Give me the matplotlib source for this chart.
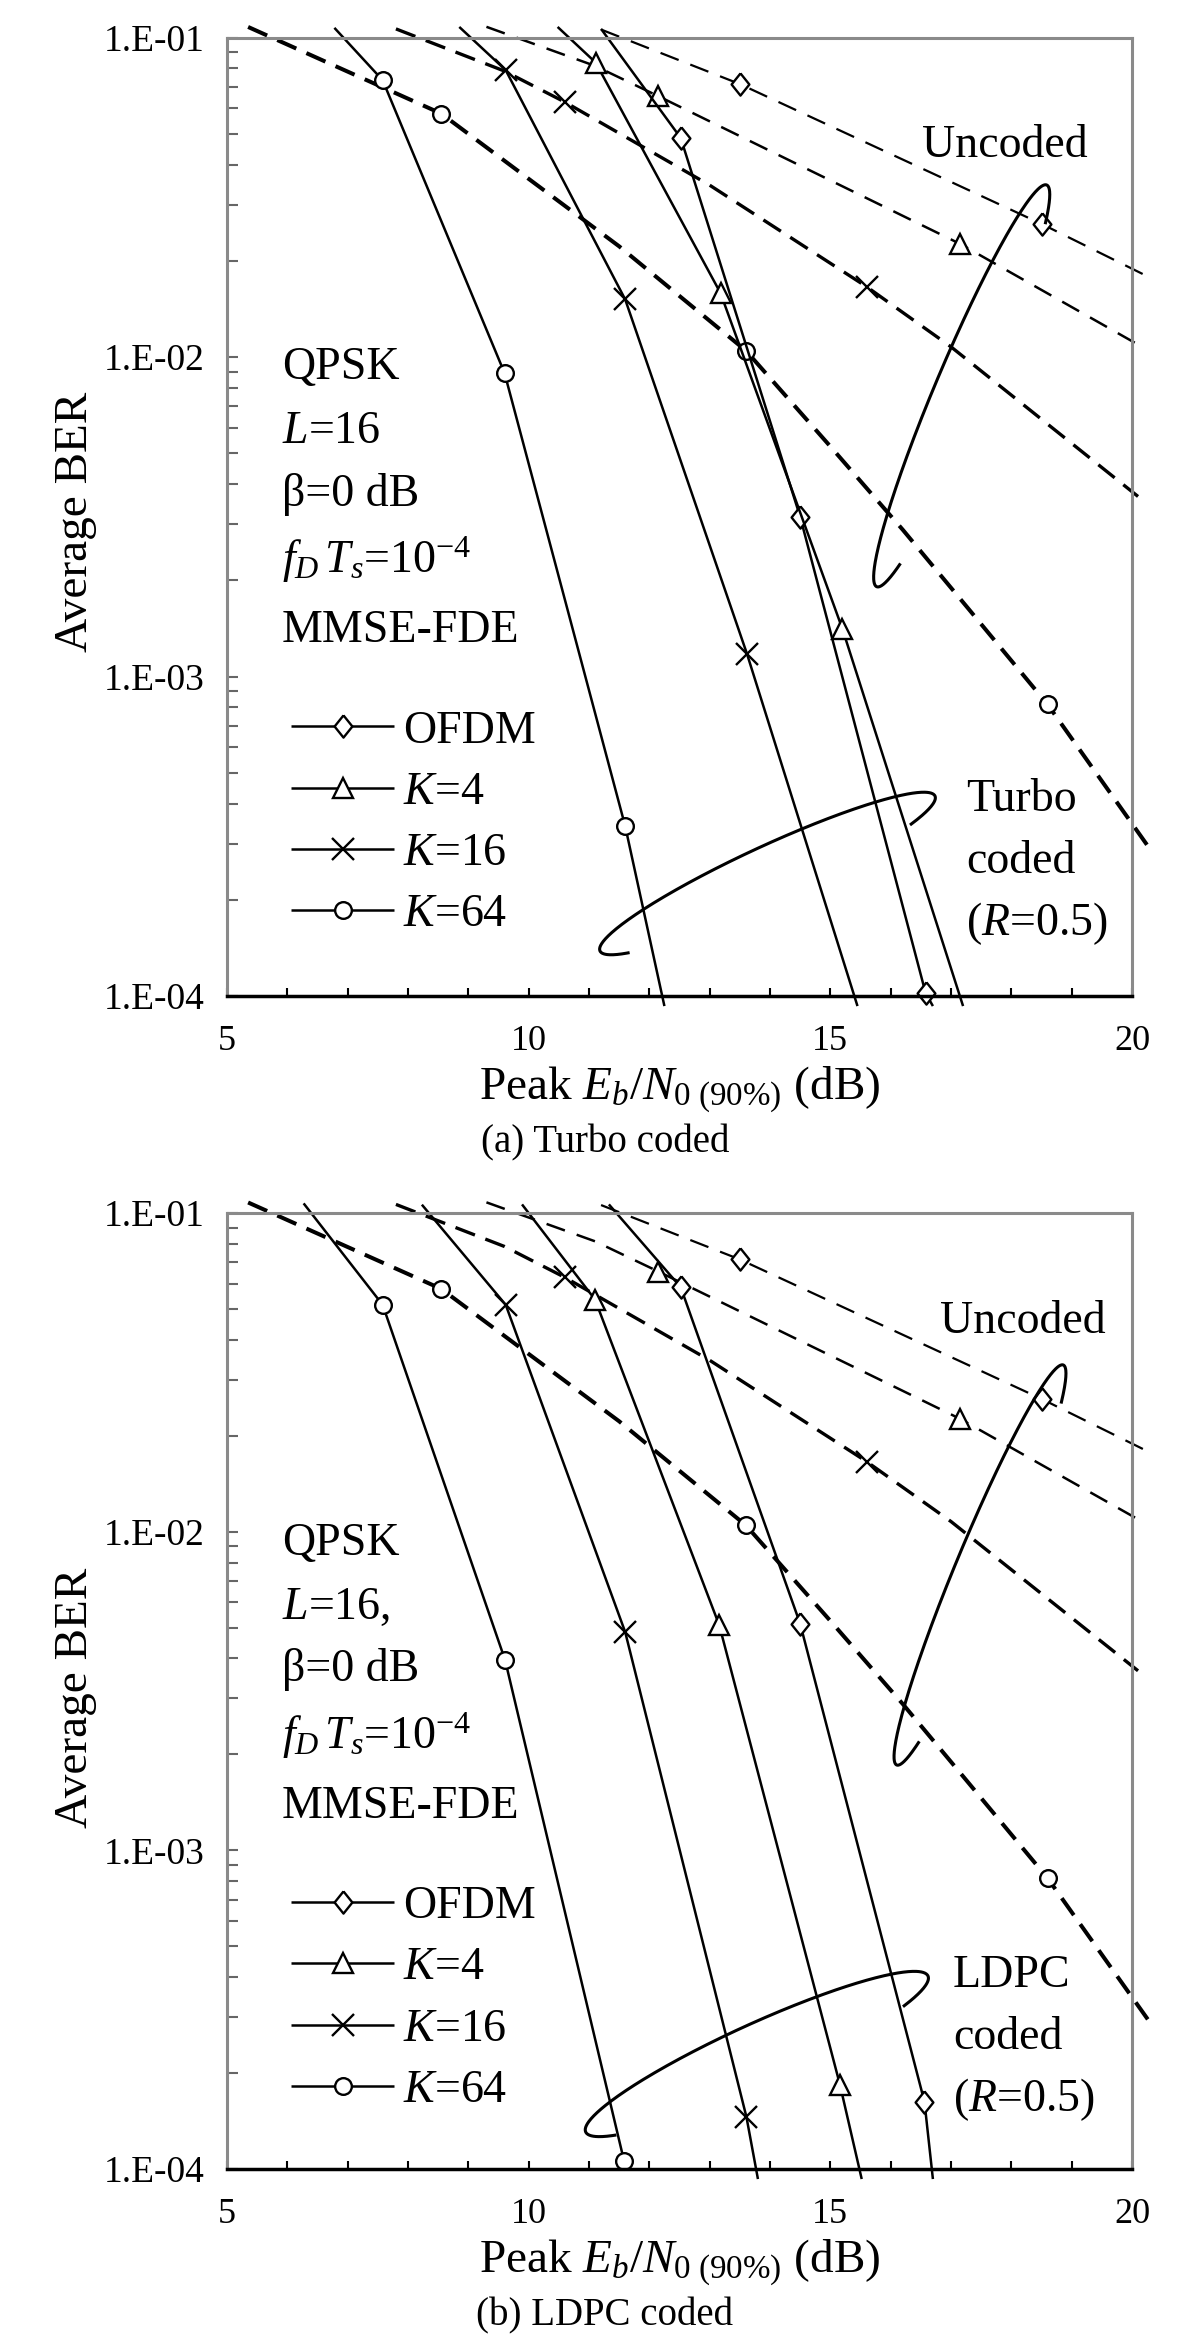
import numpy as np
import matplotlib
matplotlib.use("Agg")
import matplotlib.pyplot as plt
from matplotlib.ticker import MultipleLocator, FixedLocator, NullFormatter, LogLocator

plt.rcParams['font.family'] = ['Liberation Serif', 'DejaVu Serif']
plt.rcParams['mathtext.fontset'] = 'custom'
plt.rcParams['mathtext.rm'] = 'Liberation Serif'
plt.rcParams['mathtext.it'] = 'Liberation Serif:italic'
plt.rcParams['mathtext.bf'] = 'Liberation Serif:bold'
plt.rcParams['lines.scale_dashes'] = False

# ---------------- data (Peak Eb/N0 in dB, average BER) ----------------
# Uncoded (same in both panels)
unc_ofdm_x = [11.2, 13.5, 18.5, 20.2]
unc_ofdm_y = [0.1059, 0.0715, 0.0261, 0.0181]
unc_ofdm_mk = [1, 2]
unc_k4_x = [9.3, 11.1, 12.15, 17.15, 20.2]
unc_k4_y = [0.108, 0.0815, 0.0655, 0.0226, 0.01067]
unc_k4_mk = [2, 3]
unc_k16_x = [7.8, 9.6, 10.6, 13.0, 15.6, 17.0, 20.1]
unc_k16_y = [0.1064, 0.0785, 0.0628, 0.0345, 0.0166, 0.01076, 0.00366]
unc_k16_mk = [2, 4]
unc_k64_x = [5.35, 8.55, 11.5, 13.6, 15.0, 16.2, 17.3, 18.6, 20.3]
unc_k64_y = [0.1079, 0.0578, 0.0222, 0.01047, 0.00525, 0.00288, 0.00162, 0.000818, 0.000288]
unc_k64_mk = [1, 3, 7]

# Turbo coded (R=0.5)
tc_ofdm_x = [11.2, 12.52, 14.5, 16.58, 16.7]
tc_ofdm_y = [0.1064, 0.0485, 0.00316, 0.000102, 0.000093]
tc_k4_x = [10.48, 11.11, 13.18, 15.2, 17.2]
tc_k4_y = [0.1079, 0.0835, 0.01585, 0.00141, 0.000093]
tc_k16_x = [8.85, 9.62, 11.6, 13.62, 15.45]
tc_k16_y = [0.1079, 0.0790, 0.01514, 0.001175, 0.000093]
tc_k64_x = [6.78, 7.58, 9.6, 11.6, 12.25]
tc_k64_y = [0.1072, 0.0735, 0.00891, 0.00034, 0.000093]

# LDPC coded (R=0.5)
lc_ofdm_x = [11.33, 12.52, 14.5, 16.56, 16.7]
lc_ofdm_y = [0.1064, 0.0585, 0.00514, 0.0001626, 0.000093]
lc_k4_x = [9.89, 11.1, 13.16, 15.16, 15.52]
lc_k4_y = [0.1064, 0.0535, 0.00508, 0.0001837, 0.000093]
lc_k16_x = [8.23, 9.62, 11.6, 13.61, 13.8]
lc_k16_y = [0.1062, 0.0515, 0.00484, 0.0001455, 0.000093]
lc_k64_x = [6.27, 7.58, 9.61, 11.58]
lc_k64_y = [0.1072, 0.0515, 0.00395, 0.0001062]
coded_mk = [1, 2, 3]

legend_labels = ['OFDM', r'$K$=4', r'$K$=16', r'$K$=64']
ytick_vals = [1e-4, 1e-3, 1e-2, 1e-1]
ytick_labels = ['1.E-04', '1.E-03', '1.E-02', '1.E-01']
xtick_vals = [5, 10, 15, 20]

# ---------------- figure ----------------
W, H = 1200, 2352
fig = plt.figure(figsize=(W / 100, H / 100), dpi=100)

diamond = [(0, 1), (0.8, 0), (0, -1), (-0.8, 0), (0, 1)]
mk_style = dict(markerfacecolor='white', markeredgecolor='black', markeredgewidth=1.7)
FS = 33

def lasso(A, B, b, t0, t1):
    A = np.array(A, float); B = np.array(B, float)
    c = (A + B) / 2
    d = A - c
    a = np.hypot(*d)
    u = d / a
    n = np.array([u[1], -u[0]])
    t = np.linspace(-np.radians(t0), np.pi + np.radians(t1), 300)
    P = c[None, :] + np.cos(t)[:, None] * d[None, :] + (b * np.sin(t))[:, None] * n[None, :]
    fig.add_artist(plt.Line2D(P[:, 0] / W, 1 - P[:, 1] / H, transform=fig.transFigure,
                              color='black', lw=2.2))

panels = [
    dict(top=37.5, bottom=996,
         coded=[(tc_ofdm_x, tc_ofdm_y), (tc_k4_x, tc_k4_y), (tc_k16_x, tc_k16_y), (tc_k64_x, tc_k64_y)],
         lparam='$L$=16', code=['Turbo', 'coded', r'($R$=0.5)'], code_x=966, unc_x=922,
         caption='(a) Turbo coded',
         lasso_unc=((1046.7, 185), (876.7, 586.7), 25),
         lasso_cod=((935, 796), (600, 951), 27)),
    dict(top=1213, bottom=2169,
         coded=[(lc_ofdm_x, lc_ofdm_y), (lc_k4_x, lc_k4_y), (lc_k16_x, lc_k16_y), (lc_k64_x, lc_k64_y)],
         lparam='$L$=16,', code=['LDPC', 'coded', r'($R$=0.5)'], code_x=953, unc_x=940,
         caption='(b) LDPC coded',
         lasso_unc=((1063.3, 1365), (896.7, 1765), 23),
         lasso_cod=((928, 1976), (585.7, 2132), 30)),
]

markers = [diamond, '^', 'x', 'o']
msizes = [16, 15, 16, 12]

for p in panels:
    top, bot = p['top'], p['bottom']
    hgt = bot - top
    ax = fig.add_axes([227 / W, 1 - bot / H, 905 / W, hgt / H])
    ax.set_yscale('log')
    ax.set_xlim(5, 20)
    ax.set_ylim(1e-4, 1e-1)

    # uncoded dashed curves
    unc = [(unc_ofdm_x, unc_ofdm_y, unc_ofdm_mk, 1.6, (14, 9)),
           (unc_k4_x, unc_k4_y, unc_k4_mk, 1.8, (14, 9)),
           (unc_k16_x, unc_k16_y, unc_k16_mk, 2.4, (15, 8)),
           (unc_k64_x, unc_k64_y, unc_k64_mk, 2.9, (15, 8))]
    for (xs, ys, mk, lw, ds), m, ms in zip(unc, markers, msizes):
        ln, = ax.plot(xs, ys, color='black', lw=lw, linestyle='--', marker=m, markersize=ms,
                      markevery=mk, clip_on=False, dash_capstyle='butt', **mk_style)
        ln.set_dashes(ds)

    handles = []
    for (xs, ys), m, ms in zip(p['coded'], markers, msizes):
        ln, = ax.plot(xs, ys, color='black', lw=1.8, marker=m, markersize=ms,
                      markevery=coded_mk, clip_on=False, solid_capstyle='butt', **mk_style)
        handles.append(ln)

    # axes styling
    for s in ['top', 'right', 'left']:
        ax.spines[s].set_color('#8a8a8a')
        ax.spines[s].set_linewidth(2.2)
    ax.spines['bottom'].set_color('black')
    ax.spines['bottom'].set_linewidth(2.5)

    ax.yaxis.set_major_locator(FixedLocator(ytick_vals))
    ax.set_yticklabels(ytick_labels)
    ax.yaxis.set_minor_locator(LogLocator(base=10, subs=np.arange(2, 10)))
    ax.yaxis.set_minor_formatter(NullFormatter())
    ax.set_xticks(xtick_vals)
    ax.xaxis.set_minor_locator(MultipleLocator(1))
    ax.tick_params(axis='y', which='both', direction='in', length=8, width=1.5,
                   color='#666666', labelsize=27, pad=16)
    ax.tick_params(axis='x', which='both', direction='in', length=6, width=1.5,
                   color='black', labelsize=26, pad=21)

    # text block
    fx = lambda X: (X - 227) / 905
    fy = lambda Y: (bot - (Y + top - 37.5)) / hgt
    tx = fx(282)
    ax.text(tx, fy(368), 'QPSK', transform=ax.transAxes, fontsize=FS, va='center')
    ax.text(tx, fy(432), p['lparam'], transform=ax.transAxes, fontsize=FS, va='center')
    ax.text(tx, fy(494), 'β=0 dB', transform=ax.transAxes, fontsize=FS, va='center')
    ax.text(tx, fy(560), r'$f_{D}\,T_{s}$=10$^{-4}$', transform=ax.transAxes, fontsize=FS, va='center')
    ax.text(tx, fy(631), 'MMSE-FDE', transform=ax.transAxes, fontsize=FS, va='center')
    ax.text(fx(p['unc_x']), fy(146), 'Uncoded', transform=ax.transAxes, fontsize=FS, va='center')
    for txt, yy in zip(p['code'], [800, 862, 924]):
        ax.text(fx(p['code_x']), fy(yy), txt, transform=ax.transAxes, fontsize=FS, va='center')

    ax.legend(handles, legend_labels, loc='upper left', bbox_to_anchor=(fx(291), fy(710)),
              frameon=False, fontsize=FS, handlelength=2.25, handletextpad=0.2,
              labelspacing=0.41, borderaxespad=0, borderpad=0)

    # labels
    fig.text(76 / W, 1 - (top + 484.5) / H, 'Average BER', rotation=90, fontsize=34,
             ha='center', va='center')
    fig.text(680 / W, 1 - (bot + 94) / H, r'Peak $E_b/N_{\mathrm{0\ (90\%)}}$ (dB)', fontsize=34,
             ha='center', va='center')
    fig.text(605 / W, 1 - (bot + 147) / H, p['caption'], fontsize=28, ha='center', va='center')

    lasso(*p['lasso_unc'], 33, 30)
    lasso(*p['lasso_cod'], 35, 30)

fig.savefig('out.png', dpi=100)
